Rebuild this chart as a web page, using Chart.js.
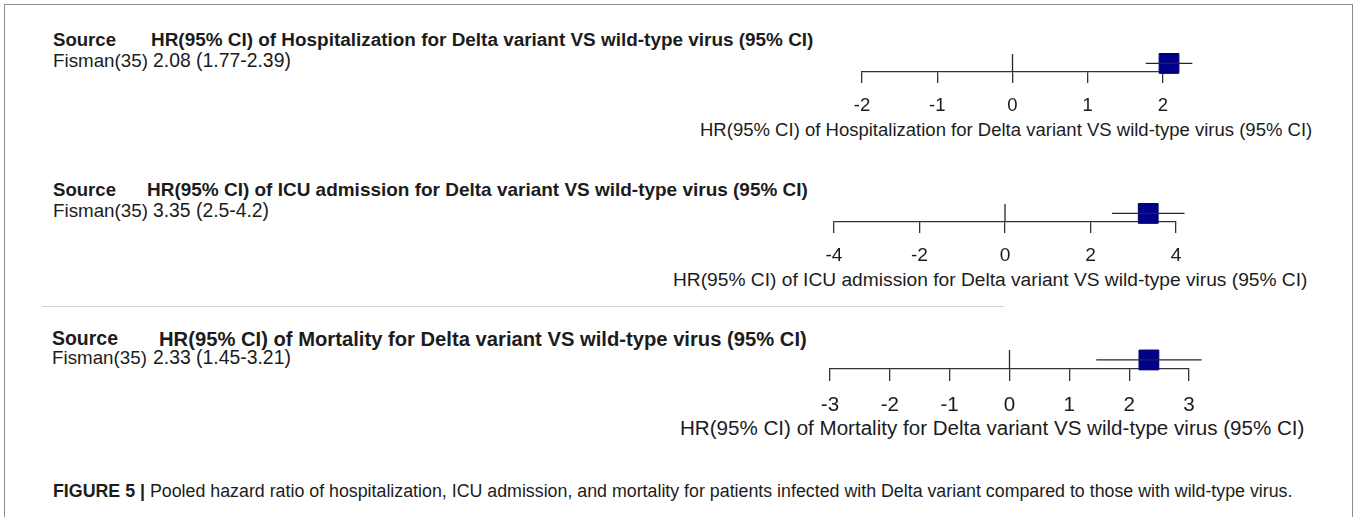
<!DOCTYPE html>
<html><head><meta charset="utf-8">
<script src="https://cdn.jsdelivr.net/npm/chart.js@4"></script>
<style>
html,body{margin:0;padding:0;background:#fff;}
body{width:1358px;height:517px;position:relative;overflow:hidden;font-family:"Liberation Sans",Arial,sans-serif;color:#1c1c1c;}
.t{position:absolute;white-space:nowrap;left:0;top:0;}
canvas{position:absolute;}
#frame{position:absolute;left:4px;top:4px;width:1347px;height:540px;border:1.5px solid #8c8c8c;}
#sep{position:absolute;left:42px;top:306px;width:962px;height:0;border-top:1.5px solid #d0d0d0;}
</style></head><body>
<div id="frame"></div><div id="sep"></div>
<script>
// ---- data ----
const outcomes = ['Hospitalization', 'ICU admission', 'Mortality'];
const studyNames = ['Fisman(35)'];
const hrValues = [2.08, 3.35, 2.33];
const ciLow = [1.77, 2.5, 1.45];
const ciHigh = [2.39, 4.2, 3.21];
const hrText = ['2.08 (1.77-2.39)', '3.35 (2.5-4.2)', '2.33 (1.45-3.21)'];
const axisMin = [-2, -4, -3];
const axisMax = [2, 4, 3];
const axisStep = [1, 2, 1];
const nullValue = 0;
const studyRow = 1;
const rowMax = 2.1;
const captionBold = 'FIGURE 5 |';
const captionText = ' Pooled hazard ratio of hospitalization, ICU admission, and mortality for patients infected with Delta variant compared to those with wild-type virus.';

// ---- layout (page pixels) ----
const layout = [
  {left: 862, right: 1163, refTop: 49, axisY: 72, tick: 11, labelY: 106,
   headY: 40, srcX: 53, srcW: 63, hrX: 151, hrW: 663, rowY: 61, nameW: 95, valX: 153, valW: 138,
   titleX: 700, titleW: 613, titleY: 130},
  {left: 834, right: 1176, refTop: 199, axisY: 222, tick: 11, labelY: 256,
   headY: 190, srcX: 53, srcW: 63, hrX: 147, hrW: 661, rowY: 211, nameW: 95, valX: 153, valW: 116,
   titleX: 673, titleW: 635, titleY: 280},
  {left: 830, right: 1189, refTop: 345, axisY: 369, tick: 12, labelY: 405,
   headY: 339, srcX: 52, srcW: 66, hrX: 159, hrW: 648, rowY: 358, nameW: 95, valX: 153, valW: 138,
   titleX: 680, titleW: 625, titleY: 428}
];

function addText(html, x, cy, w, size, bold) {
  const el = document.createElement('div');
  el.className = 't';
  el.innerHTML = html;
  el.style.fontSize = size + 'px';
  el.style.lineHeight = size + 'px';
  el.style.fontWeight = bold ? 'bold' : 'normal';
  document.body.appendChild(el);
  const mw = el.getBoundingClientRect().width;
  const fs = size * w / mw;
  el.style.fontSize = fs + 'px';
  el.style.lineHeight = fs + 'px';
  el.style.left = x + 'px';
  el.style.top = (cy - fs / 2) + 'px';
  return fs;
}

layout.forEach((L, i) => {
  const header = 'HR(95% CI) of ' + outcomes[i] + ' for Delta variant VS wild-type virus (95% CI)';
  addText('Source', L.srcX, L.headY, L.srcW, 16, true);
  addText(header, L.hrX, L.headY, L.hrW, 16, true);
  addText(studyNames[0], L.srcX, L.rowY, L.nameW, 16, false);
  addText(hrText[i], L.valX, L.rowY, L.valW, 16, false);
  const titleSize = addText(header, L.titleX, L.titleY, L.titleW, 16, false);

  const tickSize = titleSize;
  const lineH = tickSize * 1.2;
  const tickPad = L.labelY - (L.axisY + L.tick) - lineH / 2;

  const cLeft = 600, cW = 740, padTop = 10, axisH = 50;
  const cTop = L.refTop - padTop;
  const cH = padTop + (L.axisY - L.refTop) + axisH;
  const cv = document.createElement('canvas');
  cv.width = cW; cv.height = cH;
  cv.style.left = cLeft + 'px'; cv.style.top = cTop + 'px';
  cv.style.width = cW + 'px'; cv.style.height = cH + 'px';
  document.body.appendChild(cv);

  new Chart(cv, {
    type: 'scatter',
    data: {
      datasets: [
        {label: 'CI', data: [{x: ciLow[i], y: studyRow}, {x: ciHigh[i], y: studyRow}],
         showLine: true, borderColor: '#262626', borderWidth: 1.3, pointRadius: 0, clip: false},
        {label: 'HR', data: [{x: hrValues[i], y: studyRow}], pointStyle: 'rect', pointRadius: 14,
         backgroundColor: '#00008b', borderColor: '#00006a', borderWidth: 1, clip: false},
        {label: 'null', data: [{x: nullValue, y: 0}, {x: nullValue, y: rowMax}],
         showLine: true, borderColor: '#262626', borderWidth: 1.3, pointRadius: 0, clip: false}
      ]
    },
    options: {
      responsive: false, animation: false, devicePixelRatio: 1,
      layout: {padding: {left: L.left - cLeft, right: cLeft + cW - L.right, top: padTop, bottom: 0}},
      plugins: {legend: {display: false}, tooltip: {enabled: false}},
      scales: {
        x: {
          type: 'linear', min: axisMin[i], max: axisMax[i],
          ticks: {stepSize: axisStep[i], padding: tickPad, color: '#1c1c1c',
                  font: {family: 'Liberation Sans', size: tickSize}},
          grid: {drawOnChartArea: false, drawTicks: true, tickLength: L.tick, color: '#333', lineWidth: 1.3},
          border: {display: true, color: '#333', width: 1.3},
          afterFit: (s) => { s.height = axisH; }
        },
        y: {type: 'linear', display: false, min: 0, max: rowMax}
      }
    }
  });
});

addText('<b>' + captionBold + '</b>' + captionText, 53, 492, 1240, 15.5, false);
</script>
</body></html>
